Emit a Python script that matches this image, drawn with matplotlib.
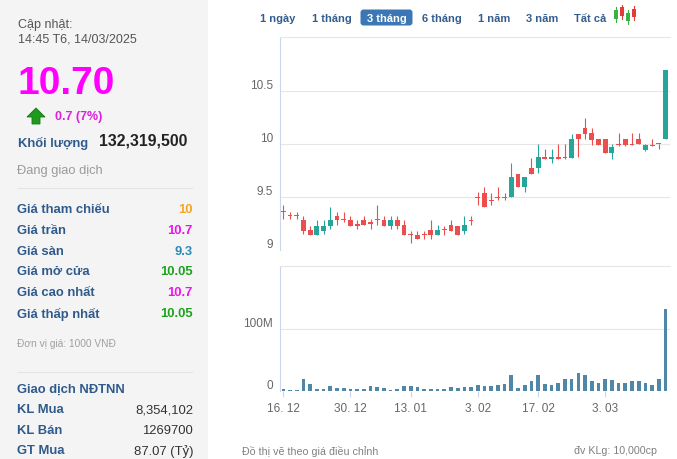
import matplotlib
matplotlib.use('Agg')
import matplotlib.pyplot as plt
from matplotlib.patches import Rectangle, FancyBboxPatch, Polygon
import numpy as np

plt.rcParams['font.family'] = ['Liberation Sans', 'DejaVu Sans']

# ---------------- data ----------------
opens = [9.37, 9.33, 9.33, 9.28, 9.19, 9.14, 9.18, 9.23, 9.32, 9.29,
         9.28, 9.24, 9.28, 9.26, 9.29, 9.28, 9.23, 9.28, 9.24, 9.15,
         9.14, 9.15, 9.19, 9.14, 9.20, 9.24, 9.23, 9.18, 9.28, 9.50,
         9.54, 9.47, 9.50, 9.50, 9.50, 9.72, 9.59, 9.77, 9.77, 9.88,
         9.86, 9.88, 9.88, 9.87, 10.09, 10.15, 10.10, 10.05, 10.05, 9.92,
         10.00, 10.05, 10.00, 10.05, 9.94, 9.99, 10.00, 10.05]
highs = [9.42, 9.36, 9.36, 9.32, 9.23, 9.28, 9.28, 9.41, 9.36, 9.36,
         9.32, 9.28, 9.32, 9.29, 9.42, 9.32, 9.32, 9.32, 9.28, 9.18,
         9.18, 9.18, 9.28, 9.24, 9.23, 9.28, 9.23, 9.32, 9.32, 9.55,
         9.59, 9.54, 9.59, 9.54, 9.82, 9.72, 9.69, 9.87, 10.00, 9.95,
         9.95, 10.00, 10.00, 10.09, 10.09, 10.25, 10.15, 10.05, 10.05, 10.00,
         10.10, 10.05, 10.10, 10.10, 10.00, 10.05, 10.00, 10.70]
lows = [9.29, 9.29, 9.29, 9.15, 9.14, 9.14, 9.15, 9.20, 9.24, 9.26,
        9.23, 9.20, 9.24, 9.20, 9.24, 9.23, 9.20, 9.20, 9.14, 9.07,
        9.10, 9.10, 9.10, 9.14, 9.14, 9.18, 9.14, 9.15, 9.24, 9.42,
        9.41, 9.42, 9.47, 9.47, 9.50, 9.59, 9.55, 9.72, 9.73, 9.86,
        9.82, 9.86, 9.86, 9.87, 9.88, 10.05, 9.99, 9.99, 9.92, 9.86,
        9.98, 9.98, 9.99, 10.00, 9.93, 9.98, 9.95, 10.05]
closes = [9.36, 9.32, 9.32, 9.18, 9.14, 9.23, 9.23, 9.28, 9.28, 9.28,
          9.23, 9.23, 9.24, 9.25, 9.28, 9.23, 9.28, 9.23, 9.14, 9.14,
          9.10, 9.14, 9.14, 9.19, 9.19, 9.18, 9.14, 9.24, 9.27, 9.49,
          9.41, 9.46, 9.49, 9.49, 9.69, 9.59, 9.69, 9.72, 9.88, 9.86,
          9.88, 9.86, 9.87, 10.05, 10.05, 10.09, 10.04, 9.99, 9.92, 9.97,
          9.99, 9.99, 9.99, 10.00, 9.99, 9.98, 10.00, 10.70]
volumes_m = [3.3, 2.2, 1.1, 20, 12, 3.8, 3.8, 8.7, 5.4, 5.4,
             3.8, 3.8, 3.8, 8.2, 7.1, 5.4, 1.1, 3.8, 8.7, 8.7,
             7.1, 3.3, 3.8, 3.8, 3.3, 7.1, 4.9, 7.1, 7.1, 10.3,
             8.7, 8.7, 10.3, 12, 26.6, 5.4, 10.3, 16.8, 26.6, 12,
             10.3, 13.6, 20, 20, 28.3, 26.6, 16.8, 13.6, 20, 18.5,
             13.6, 13.6, 16.8, 16.8, 13.6, 10.3, 20, 132.3]
xtick_index = [0, 10, 19, 29, 38, 48]
xtick_labels = ['16. 12', '30. 12', '13. 01', '3. 02', '17. 02', '3. 03']
price_ticks = [9, 9.5, 10, 10.5]
price_tick_labels = ['9', '9.5', '10', '10.5']
vol_ticks = [0, 100]
vol_tick_labels = ['0', '100M']

range_buttons = ['1 ngày', '1 tháng', '3 tháng', '6 tháng', '1 năm', '3 năm', 'Tất cả']
info_labels = ['Giá tham chiếu', 'Giá trần', 'Giá sàn', 'Giá mở cửa', 'Giá cao nhất', 'Giá thấp nhất']
info_values = ['10', '10.7', '9.3', '10.05', '10.7', '10.05']
foreign_labels = ['KL Mua', 'KL Bán', 'GT Mua']
foreign_values = ['8,354,102', '1269700', '87.07 (Tỷ)']

# ---------------- figure ----------------
W, H = 677, 460
fig = plt.figure(figsize=(W / 100, H / 100), dpi=100)
fig.patch.set_facecolor('white')

bg = fig.add_axes([0, 0, 1, 1], zorder=0)
bg.set_xlim(0, W)
bg.set_ylim(H, 0)
bg.axis('off')

LBLUE = '#2f5a8c'
MAG = '#ee11ee'
GREEN_T = '#1ca31c'

bg.add_patch(Rectangle((0, 0), 208, H, color='#f4f4f4', lw=0))
bg.text(18, 25, 'Cập nhật:', fontsize=9, color='#555555', va='center')
bg.text(18, 40, '14:45 T6, 14/03/2025', fontsize=9, color='#555555', va='center')
bg.text(17, 84, '10.70', fontsize=28, fontweight='bold', color='#ff00ff', va='center')
# green up arrow
bg.add_patch(Polygon([(36, 109), (45, 118), (40, 118), (40, 125), (32, 125), (32, 118), (27, 118)],
                     closed=True, facecolor='#1f9a1f', edgecolor='#137a13', lw=0.6))
bg.text(55, 117, '0.7 (7%)', fontsize=9, fontweight='bold', color='#dd22dd', va='center')
bg.text(18, 143, 'Khối lượng', fontsize=9.4, fontweight='bold', color=LBLUE, va='center')
bg.text(99, 141, '132,319,500', fontsize=11.4, fontweight='bold', color='#222222', va='center')
bg.text(17, 171, 'Đang giao dịch', fontsize=9.3, color='#9a9a9a', va='center')
bg.plot([18, 192], [188.5, 188.5], color='#e4e4e4', lw=0.8)

value_colors = ['#f5a623', MAG, '#2a8ab8', GREEN_T, MAG, GREEN_T]
for i, (lab, val) in enumerate(zip(info_labels, info_values)):
    y = 210 + i * 20.8
    bg.text(17, y, lab, fontsize=9.4, fontweight='bold', color=LBLUE, va='center')
    bg.text(193, y, val, fontsize=9.4, fontweight='bold', color=value_colors[i], va='center', ha='right')
bg.text(17, 344.5, 'Đơn vị giá: 1000 VNĐ', fontsize=7.3, color='#a0a0a0', va='center')
bg.plot([18, 192], [372.5, 372.5], color='#e4e4e4', lw=0.8)
bg.text(17, 389.5, 'Giao dịch NĐTNN', fontsize=9.4, fontweight='bold', color=LBLUE, va='center')
for i, (lab, val) in enumerate(zip(foreign_labels, foreign_values)):
    y = 410.5 + i * 20.5
    bg.text(17, y, lab, fontsize=9.4, fontweight='bold', color=LBLUE, va='center')
    bg.text(193, y, val, fontsize=9.4, color='#333333', va='center', ha='right')

# range buttons
btn_x = [260.5, 311.5, 364.5, 422.5, 478, 526, 574]
for lab, bx in zip(range_buttons, btn_x):
    if lab == '3 tháng':
        bg.add_patch(FancyBboxPatch((360.5, 10.5), 52, 16, boxstyle='round,pad=0,rounding_size=3',
                                    facecolor='#3a77b4', edgecolor='none'))
        bg.text(386.5, 18.5, lab, fontsize=8, fontweight='bold', color='white', va='center', ha='center')
    else:
        bg.text(bx, 18.5, lab, fontsize=8, fontweight='bold', color='#335d8f', va='center')
# small candle icon
for cx, b0, b1, w0, w1, col in [(616, 11, 20, 8, 23, '#3cb043'), (622, 8, 17, 6, 20, '#e23b3b'),
                                (628, 14, 22, 11, 25, '#3cb043'), (634, 10, 18, 7, 21, '#e23b3b')]:
    bg.plot([cx, cx], [w0, w1], color=col, lw=0.8)
    bg.add_patch(Rectangle((cx - 2, b0), 4, b1 - b0, facecolor=col, lw=0))

# footer
bg.text(242, 451.5, 'Đồ thị vẽ theo giá điều chỉnh', fontsize=7.7, color='#808080', va='center')
bg.text(657, 451.5, 'đv KLg: 10,000cp', fontsize=7.7, color='#808080', va='center', ha='right')

# ---------------- price chart ----------------
RED = '#ec4d4d'
GRN = '#26a69a'
GRID = '#e6e6e6'
AXC = '#ccd6eb'

o = np.array(opens); h = np.array(highs); l = np.array(lows); c = np.array(closes)
x = np.arange(len(o))
cols = np.where(c > o, GRN, RED)

ax = fig.add_axes([280 / W, 1 - 251 / H, 390 / W, 213 / H], zorder=2)
ax.patch.set_alpha(0)
ax.vlines(x, l, h, colors=cols, lw=0.8, zorder=3)
ax.bar(x, np.maximum(np.abs(c - o), 0.012), bottom=np.minimum(o, c), width=0.72,
       color=cols, lw=0, zorder=4)
ax.set_xlim(-0.5, len(o) - 1 + 0.67)
ax.set_ylim(9, 11.01)
ax.set_yticks(price_ticks)
ax.yaxis.grid(True, color=GRID, lw=0.8)
ax.set_axisbelow(True)
ax.tick_params(left=False, labelleft=False, bottom=False, labelbottom=False)
for s in ['right', 'bottom']:
    ax.spines[s].set_visible(False)
ax.spines['left'].set_color(AXC)
ax.spines['left'].set_linewidth(0.8)
ax.spines['top'].set_color(GRID)
ax.spines['top'].set_linewidth(0.8)
for v, t in zip(price_ticks, price_tick_labels):
    ax.annotate(t, xy=(0, v), xycoords=('axes fraction', 'data'), xytext=(-5, 4.4),
                textcoords='offset points', ha='right', va='center', fontsize=8.5, color='#666666')

# ---------------- volume chart ----------------
av = fig.add_axes([280 / W, 1 - 392 / H, 390 / W, 125 / H], zorder=2)
av.patch.set_alpha(0)
av.bar(x, volumes_m, width=0.55, color='#5087a7', lw=0, zorder=3)
av.set_xlim(ax.get_xlim())
av.set_ylim(0, 201.6)
av.set_yticks(vol_ticks)
av.yaxis.grid(True, color=GRID, lw=0.8)
av.set_axisbelow(True)
av.tick_params(left=False, labelleft=False)
av.set_xticks(xtick_index, xtick_labels)
av.tick_params(axis='x', direction='out', length=4.3, width=0.8, color=AXC, pad=3.8,
               labelsize=8.5, labelcolor='#666666')
for s in ['right', 'bottom']:
    av.spines[s].set_visible(False)
av.spines['left'].set_color(AXC)
av.spines['left'].set_linewidth(0.8)
av.spines['top'].set_color(GRID)
av.spines['top'].set_linewidth(0.8)
for v, t in zip(vol_ticks, vol_tick_labels):
    av.annotate(t, xy=(0, v), xycoords=('axes fraction', 'data'), xytext=(-5, 4.4),
                textcoords='offset points', ha='right', va='center', fontsize=8.5, color='#666666')

fig.savefig('out.png', dpi=100, facecolor='white')
